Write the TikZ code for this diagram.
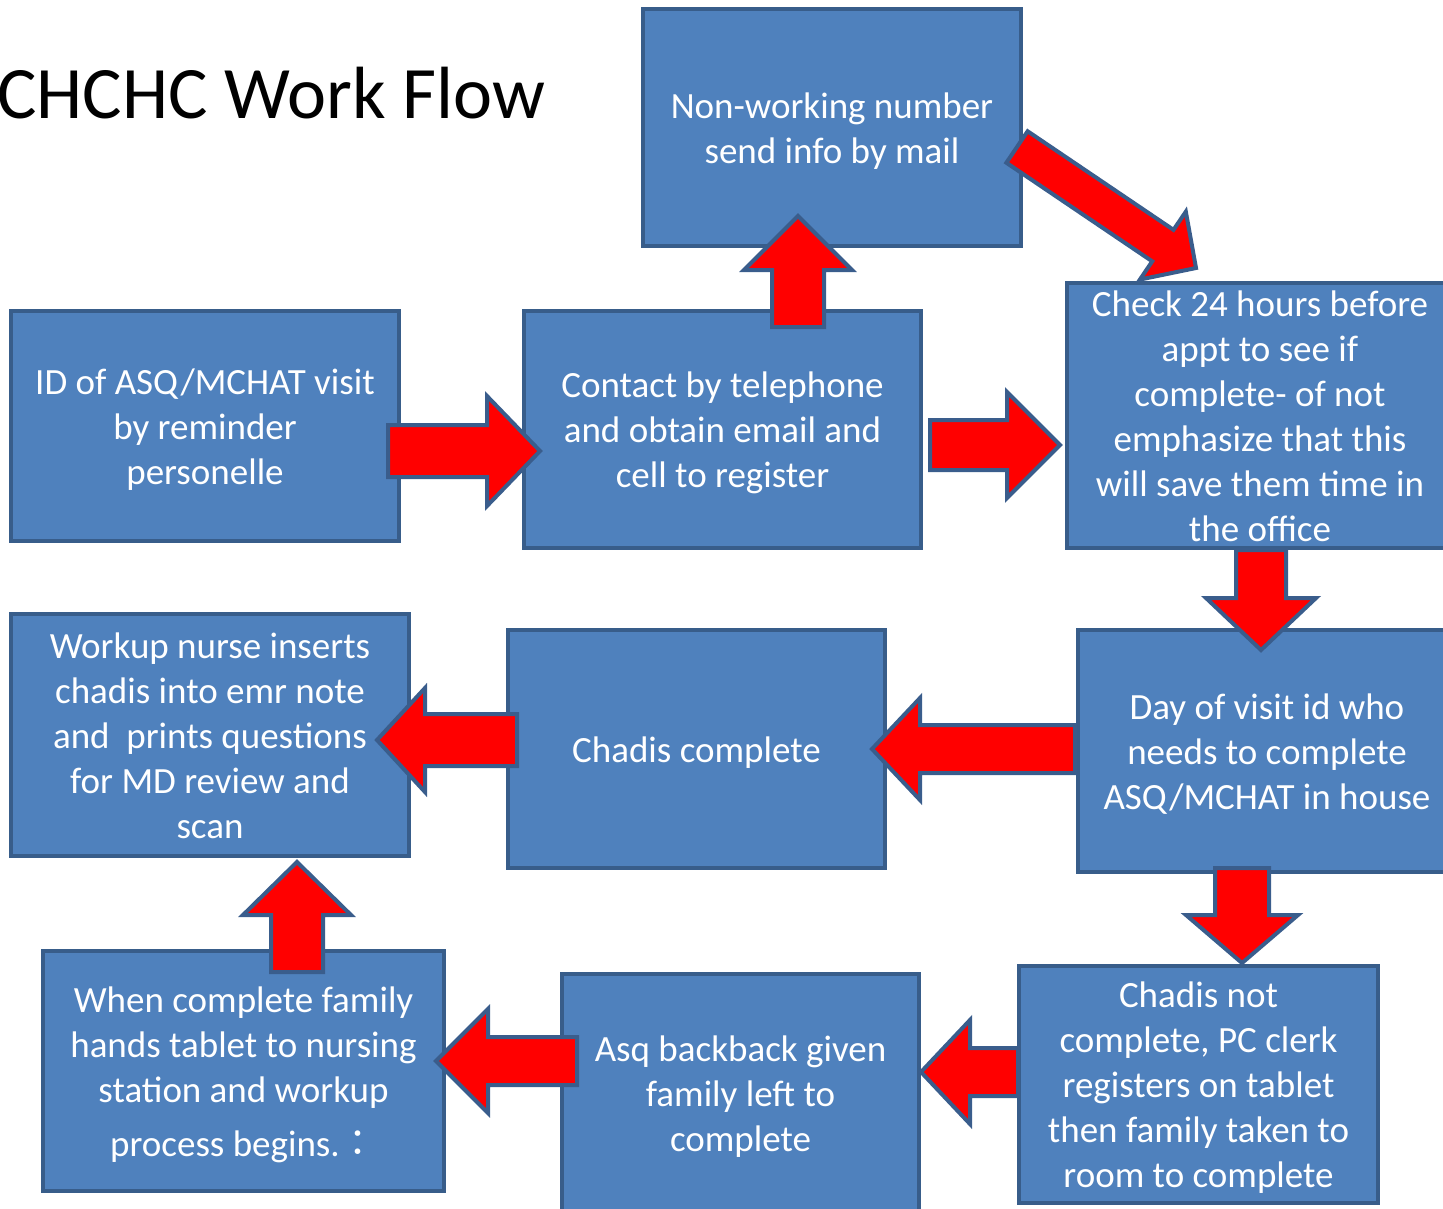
\documentclass[tikz,border=0pt]{standalone}
\usepackage{fontspec}
\setmainfont{Carlito}
\newfontfamily\cjkfont{Noto Sans CJK JP}
\usetikzlibrary{calc}
\definecolor{boxfill}{HTML}{4F81BD}
\definecolor{boxline}{HTML}{385D8A}
\definecolor{arrline}{HTML}{3A5D8C}
\newcommand\tp{\rule{0pt}{38pt}}
\newcommand\bt{\rule[-12pt]{0pt}{12pt}}
\newcommand\tpc{\rule{0pt}{33pt}}
\newcommand\btc{\rule[-7pt]{0pt}{7pt}}
\tikzset{
  box/.style={draw=boxline, line width=3.5pt, fill=boxfill, text=white, align=center,
    inner sep=0pt, font=\fontsize{37}{45}\selectfont},
  barrow/.style={draw=arrline, line width=4pt, fill=red, line join=miter},
}
\newcommand\blockarrow[6]{%
  \coordinate (#6-h) at ($(#2)!#5pt!(#1)$);
  \draw[barrow] ($(#1)!#3pt!90:(#2)$) -- ($(#6-h)!#3pt!90:(#2)$) -- ($(#6-h)!#4pt!90:(#2)$)
    -- (#2) -- ($(#6-h)!#4pt!-90:(#2)$) -- ($(#6-h)!#3pt!-90:(#2)$) -- ($(#1)!#3pt!-90:(#2)$) -- cycle;
}
\begin{document}
\begin{tikzpicture}[x=1pt,y=-1pt]
\useasboundingbox (0,0) rectangle (1443,1208);
\clip (0,0) rectangle (1443,1208);
\node[anchor=base west, inner sep=0pt, font=\fontsize{74}{80}\selectfont] (title) at (-3,118) {CHCHC Work Flow};

\node[box, minimum width=378pt, minimum height=237pt] (nonw) at (832,127.5) {\tp Non-working number\\send info by mail\bt};
\node[box, minimum width=388pt, minimum height=230pt] (id) at (205,426) {\tp ID of ASQ/MCHAT visit\\by reminder\\personelle\bt};
\node[box, minimum width=397pt, minimum height=237pt] (contact) at (722.5,429.5) {\tp Contact by telephone\\and obtain email and\\cell to register\bt};
\node[box, minimum width=386pt, minimum height=265pt] (check) at (1260,415.5) {\tpc Check 24 hours before\\appt to see if\\complete- of not\\emphasize that this\\will save them time in\\the office\btc};
\node[box, minimum width=378pt, minimum height=242pt] (day) at (1267,751) {\tp Day of visit id who\\needs to complete\\ASQ/MCHAT in house\bt};
\node[box, minimum width=377pt, minimum height=238pt] (chc) at (696.5,749) {\tp Chadis complete\bt};
\node[box, minimum width=398pt, minimum height=242pt] (workup) at (210,735) {\tp Workup nurse inserts\\chadis into emr note\\and~ prints questions\\for MD review and\\scan\bt};
\node[box, minimum width=401pt, minimum height=240pt] (when) at (243.5,1071) {\tp When complete family\\hands tablet to nursing\\station and workup\\[9pt]process begins.{\cjkfont ：}\bt};
\node[box, minimum width=357pt, minimum height=238pt] (asq) at (740.5,1093) {\tp Asq backback given\\family left to\\complete\bt};
\node[box, minimum width=359pt, minimum height=237pt] (cnot) at (1198.5,1084.5) {\tp Chadis not\\complete, PC clerk\\registers on tablet\\then family taken to\\room to complete\bt};

% arrow ends
\coordinate (a1t) at (388,451);  \coordinate (a1e) at (540,451);
\coordinate (a2t) at (930,445);  \coordinate (a2e) at (1060,445);
\coordinate (a3t) at (798,327);  \coordinate (a3e) at (798,216);
\coordinate (a4t) at (1017,147); \coordinate (a4e) at (1196,268);
\coordinate (a5t) at (1261,550); \coordinate (a5e) at (1261,650);
\coordinate (a6t) at (1075,749); \coordinate (a6e) at (872,749);
\coordinate (a7t) at (517,740);  \coordinate (a7e) at (377,740);
\coordinate (a8t) at (1242,868); \coordinate (a8e) at (1242,963);
\coordinate (a9t) at (1018,1072); \coordinate (a9e) at (921,1072);
\coordinate (a10t) at (577,1061); \coordinate (a10e) at (436,1061);
\coordinate (a11t) at (297,972); \coordinate (a11e) at (297,862);

\blockarrow{a1t}{a1e}{26}{55}{53}{A1}
\blockarrow{a2t}{a2e}{25}{53}{53}{A2}
\blockarrow{a3t}{a3e}{26}{54}{54}{A3}
\blockarrow{a4t}{a4e}{19}{41}{40}{A4}
\blockarrow{a5t}{a5e}{25}{55}{52}{A5}
\blockarrow{a6t}{a6e}{24}{51}{48}{A6}
\blockarrow{a7t}{a7e}{26}{52}{48}{A7}
\blockarrow{a8t}{a8e}{27}{56}{48}{A8}
\blockarrow{a9t}{a9e}{24}{52}{49}{A9}
\blockarrow{a10t}{a10e}{24}{52}{52}{A10}
\blockarrow{a11t}{a11e}{26}{54}{53}{A11}
\end{tikzpicture}
\end{document}
